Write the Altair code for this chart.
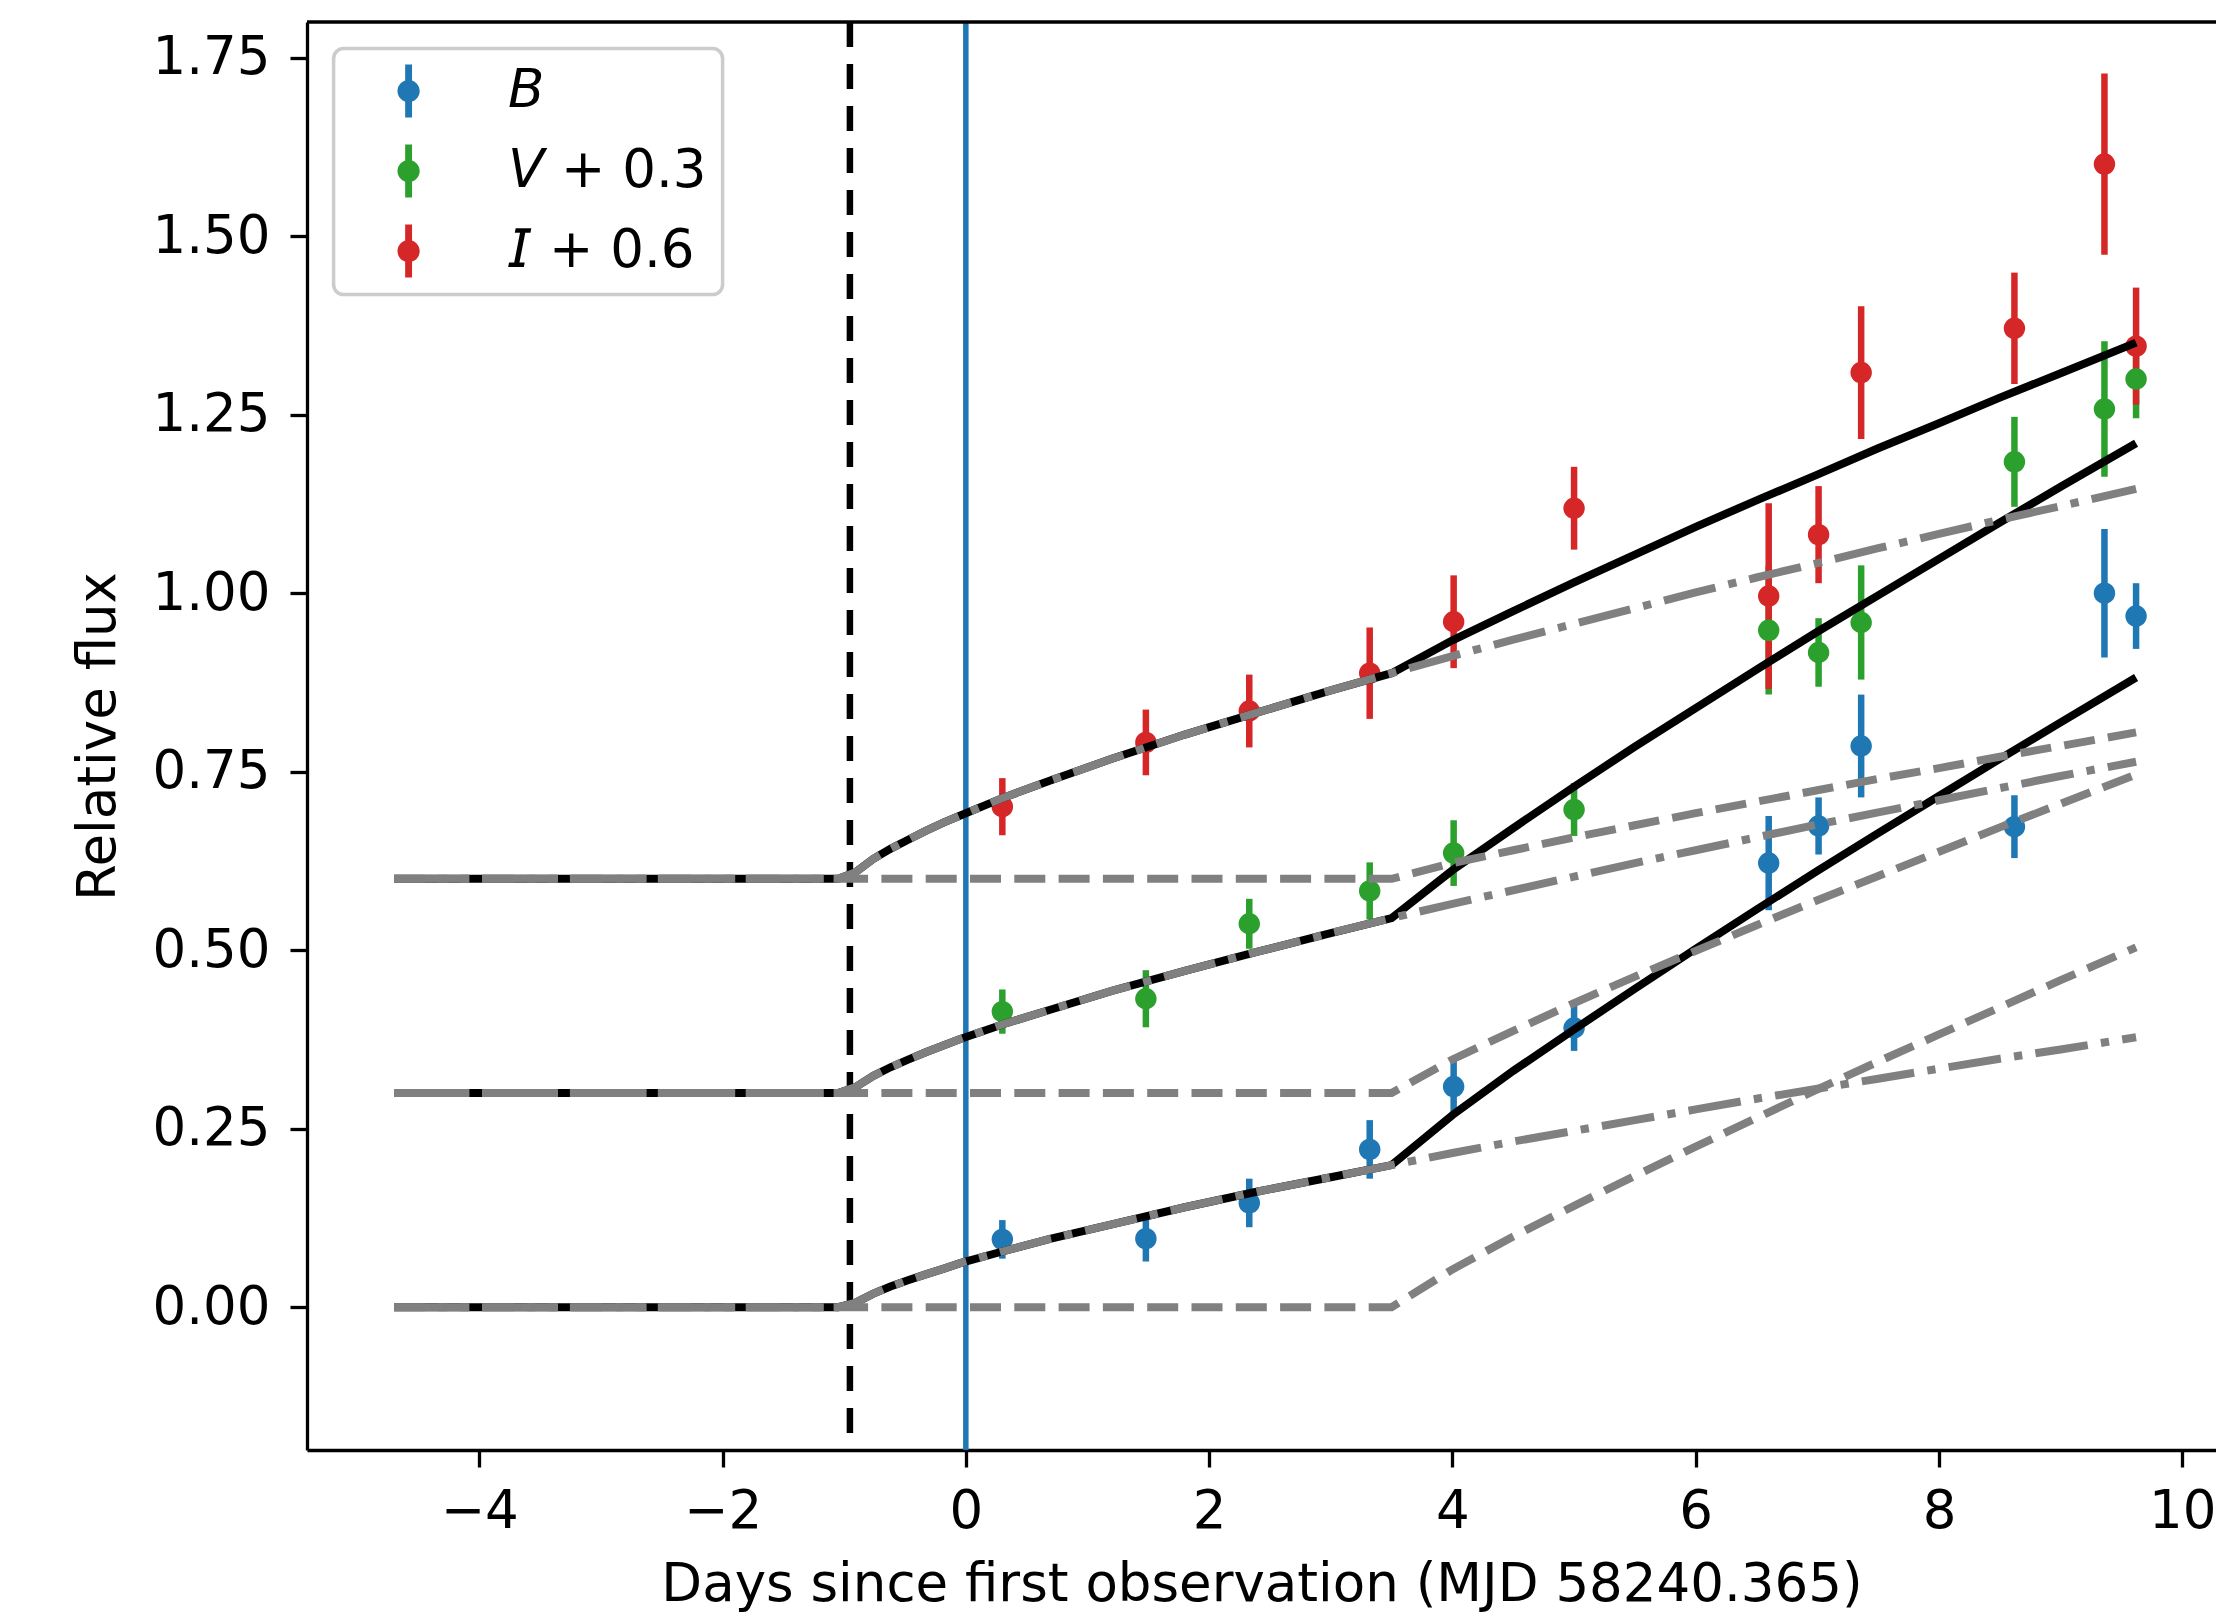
import altair as alt
import pandas as pd

# ---------------- data ----------------
band_names = ["B", "V + 0.3", "I + 0.6"]
band_colors = ["#1f77b4", "#2ca02c", "#d62728"]

obs_days = [0.30, 1.48, 2.33, 3.32, 4.01, 5.00, 6.60, 7.01, 7.36, 8.62, 9.36, 9.62]
B_flux = [0.095, 0.096, 0.146, 0.221, 0.309, 0.391, 0.622, 0.674, 0.786, 0.673, 1.000, 0.968]
B_err = [0.027, 0.032, 0.034, 0.041, 0.040, 0.032, 0.066, 0.040, 0.072, 0.044, 0.090, 0.046]
V_flux = [0.414, 0.432, 0.537, 0.583, 0.636, 0.697, 0.948, 0.917, 0.959, 1.184, 1.258, 1.300]
V_err = [0.031, 0.040, 0.035, 0.040, 0.046, 0.037, 0.090, 0.048, 0.080, 0.063, 0.095, 0.055]
I_flux = [0.701, 0.791, 0.835, 0.888, 0.960, 1.119, 0.996, 1.082, 1.309, 1.371, 1.601, 1.346]
I_err = [0.040, 0.046, 0.051, 0.064, 0.065, 0.058, 0.130, 0.068, 0.093, 0.078, 0.127, 0.082]

first_light_day = -0.953
first_obs_day = 0.0
frame_top = 1.8

model_days = [-4.7, -1.05, -0.91, -0.76, -0.62, -0.47, -0.33, -0.18, -0.04, 0.3, 0.7, 1.2,
              1.8, 2.4, 3.0, 3.5, 4.0, 4.5, 5.0, 5.5, 6.0, 6.5, 7.0, 7.5, 8.0, 8.5, 9.0, 9.62]

B_total = [0.0, 0.0, 0.006, 0.019, 0.029, 0.038, 0.046, 0.054, 0.062, 0.078, 0.096, 0.116,
           0.140, 0.162, 0.182, 0.199, 0.269, 0.331, 0.389, 0.446, 0.502, 0.557, 0.611, 0.664,
           0.716, 0.768, 0.819, 0.882]
B_early = [0.0, 0.0, 0.006, 0.019, 0.029, 0.038, 0.046, 0.054, 0.062, 0.078, 0.096, 0.116,
           0.140, 0.162, 0.182, 0.199, 0.216, 0.232, 0.247, 0.262, 0.277, 0.292, 0.306, 0.320,
           0.334, 0.348, 0.361, 0.378]
B_late = [0.0, 0.0, 0.0, 0.0, 0.0, 0.0, 0.0, 0.0, 0.0, 0.0, 0.0, 0.0,
          0.0, 0.0, 0.0, 0.0, 0.053, 0.099, 0.142, 0.184, 0.225, 0.265, 0.305, 0.344,
          0.382, 0.420, 0.458, 0.504]

V_total = [0.3, 0.3, 0.308, 0.324, 0.336, 0.347, 0.357, 0.367, 0.376, 0.396, 0.417, 0.443,
           0.471, 0.498, 0.524, 0.545, 0.612, 0.671, 0.729, 0.785, 0.839, 0.893, 0.946, 0.997,
           1.048, 1.099, 1.149, 1.210]
V_early = [0.3, 0.3, 0.308, 0.324, 0.336, 0.347, 0.357, 0.367, 0.376, 0.396, 0.417, 0.443,
           0.471, 0.498, 0.524, 0.545, 0.565, 0.584, 0.603, 0.622, 0.640, 0.658, 0.676, 0.693,
           0.710, 0.727, 0.744, 0.764]
V_late = [0.3, 0.3, 0.3, 0.3, 0.3, 0.3, 0.3, 0.3, 0.3, 0.3, 0.3, 0.3,
          0.3, 0.3, 0.3, 0.3, 0.347, 0.387, 0.426, 0.463, 0.499, 0.535, 0.570, 0.604,
          0.638, 0.672, 0.705, 0.746]

I_total = [0.6, 0.6, 0.609, 0.628, 0.642, 0.655, 0.667, 0.679, 0.689, 0.713, 0.738, 0.768,
           0.802, 0.833, 0.864, 0.888, 0.934, 0.975, 1.015, 1.054, 1.093, 1.130, 1.166, 1.203,
           1.238, 1.274, 1.308, 1.351]
I_early = [0.6, 0.6, 0.609, 0.628, 0.642, 0.655, 0.667, 0.679, 0.689, 0.713, 0.738, 0.768,
           0.802, 0.833, 0.864, 0.888, 0.912, 0.935, 0.957, 0.979, 1.001, 1.022, 1.042, 1.063,
           1.083, 1.103, 1.122, 1.146]
I_late = [0.6, 0.6, 0.6, 0.6, 0.6, 0.6, 0.6, 0.6, 0.6, 0.6, 0.6, 0.6,
          0.6, 0.6, 0.6, 0.6, 0.622, 0.640, 0.658, 0.675, 0.692, 0.708, 0.724, 0.740,
          0.755, 0.771, 0.786, 0.805]

x_ticks = [-4, -2, 0, 2, 4, 6, 8, 10]
y_ticks = [0.0, 0.25, 0.5, 0.75, 1.0, 1.25, 1.5, 1.75]

# ---------------- tables ----------------
obs_rows = []
for name, flux, err in zip(band_names, [B_flux, V_flux, I_flux], [B_err, V_err, I_err]):
    for d, f, e in zip(obs_days, flux, err):
        obs_rows.append({"day": d, "flux": f, "lo": f - e, "hi": f + e, "band": name})
obs = pd.DataFrame(obs_rows)


def curve_table(curves):
    rows = []
    for name, vals in zip(band_names, curves):
        for d, v in zip(model_days, vals):
            rows.append({"day": d, "flux": v, "band": name})
    return pd.DataFrame(rows)


total_df = curve_table([B_total, V_total, I_total])
early_df = curve_table([B_early, V_early, I_early])
late_df = curve_table([B_late, V_late, I_late])
t0_df = pd.DataFrame({"day": [first_light_day]})
tobs_df = pd.DataFrame({"day": [first_obs_day]})
top_df = pd.DataFrame({"flux": [frame_top]})

# ---------------- encodings ----------------
FONT = "DejaVu Sans"
FS = 53
xscale = alt.Scale(domain=[-5.416, 10.277], nice=False, zero=False)
yscale = alt.Scale(domain=[-0.2, 1.8], nice=False, zero=False)
xaxis = alt.Axis(values=x_ticks, format="d", title="Days since first observation (MJD 58240.365)",
                 labelFontSize=FS, titleFontSize=FS, tickSize=17, tickWidth=3.3, domainWidth=3.3,
                 labelPadding=18, titlePadding=20, labelFlush=False, labelOverlap=False, grid=False)
yaxis = alt.Axis(values=y_ticks, format=".2f", title="Relative flux",
                 labelFontSize=FS, titleFontSize=FS, tickSize=17, tickWidth=3.3, domainWidth=3.3,
                 labelPadding=20, titlePadding=26, labelFlush=False, labelOverlap=False, grid=False)
X = alt.X("day:Q", scale=xscale, axis=xaxis)
Y = alt.Y("flux:Q", scale=yscale, axis=yaxis)
color_scale = alt.Scale(domain=band_names, range=band_colors)

sym = ("M-0.13,-1L0.13,-1L0.13,1L-0.13,1Z "
       "M0.42,0A0.42,0.42,0,1,1,-0.42,0A0.42,0.42,0,1,1,0.42,0Z")
label_expr = ("datum.label == 'B' ? '\U0001D609' : "
              "datum.label == 'V + 0.3' ? '\U0001D61D + 0.3\u00a0' : '\U0001D610 + 0.6'")

legend = alt.Legend(orient="none", legendX=26.6, legendY=26.6, title=None,
                    symbolType=sym, symbolSize=2809, symbolStrokeWidth=0, symbolOpacity=1,
                    labelFont=FONT, labelFontSize=FS, labelColor="black", labelExpr=label_expr,
                    labelLimit=600,
                    padding=16, rowPadding=26, symbolOffset=32.5, labelOffset=73,
                    strokeColor="#cccccc", fillColor="white", cornerRadius=10)
color_enc = alt.Color("band:N", scale=color_scale, legend=legend)

# ---------------- layers ----------------
vline_t0 = alt.Chart(t0_df).mark_rule(color="black", strokeWidth=6.5, strokeDash=[25, 17]).encode(x=X)
vline_obs = alt.Chart(tobs_df).mark_rule(color="#1f77b4", strokeWidth=5.5).encode(x=X)

bars = alt.Chart(obs).mark_rule(strokeWidth=6.5).encode(
    x=X,
    y=alt.Y("lo:Q", scale=yscale, axis=yaxis),
    y2="hi:Q",
    color=color_enc,
)
pts = alt.Chart(obs).mark_circle(size=460, opacity=1).encode(
    x=X, y=Y,
    color=color_enc,
)

tot = alt.Chart(total_df).mark_line(color="black", strokeWidth=8).encode(x=X, y=Y, detail="band:N")
late = alt.Chart(late_df).mark_line(color="gray", strokeWidth=8, strokeDash=[31, 13.3]).encode(
    x=X, y=Y, detail="band:N")
early = alt.Chart(early_df).mark_line(color="gray", strokeWidth=8,
                                      strokeDash=[53, 13.3, 8.3, 13.3]).encode(
    x=X, y=Y, detail="band:N")
top = alt.Chart(top_df).mark_rule(color="black", strokeWidth=3.3).encode(y=Y)

chart = alt.layer(vline_t0, vline_obs, bars, pts, tot, late, early, top).properties(
    width=1909, height=1428,
    autosize=alt.AutoSizeParams(type="none"),
    padding={"left": 307, "top": 22, "right": 0, "bottom": 170},
    background="white",
).configure_view(stroke=None).configure_axis(
    labelFont=FONT, titleFont=FONT, labelColor="black", titleColor="black",
    domainColor="black", tickColor="black", titleFontWeight="normal",
).configure_legend(strokeWidth=3.5)

chart.save("out.html", embed_options={"renderer": "svg", "actions": False})
